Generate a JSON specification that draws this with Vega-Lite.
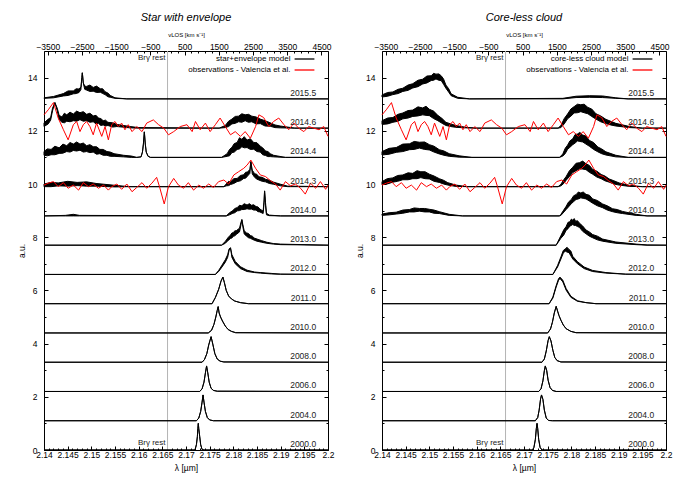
{
"$schema": "https://vega.github.io/schema/vega-lite/v6.json",
"background": "white",
"padding": {"left": 17, "top": 11, "right": 20, "bottom": 5},
"spacing": 20,
"config": {
  "font": "Liberation Sans",
  "view": {"stroke": "black", "strokeWidth": 1},
  "title": {"font": "Liberation Sans", "fontSize": 11, "fontStyle": "italic", "fontWeight": "normal", "offset": 8, "color": "black"},
  "axis": {"labelFont": "Liberation Sans", "titleFont": "Liberation Sans", "labelFontSize": 8.5, "titleFontSize": 8.5, "titleFontWeight": "normal", "labelColor": "black", "titleColor": "black", "tickColor": "black", "labelPadding": 4, "grid": false, "domain": false, "labelFlush": false, "labelOverlap": false},
  "legend": {"padding": 0, "labelFontSize": 8, "labelFont": "Liberation Sans", "labelColor": "black", "symbolType": "M-1.8,0H1.8", "symbolStrokeWidth": 1.3, "symbolSize": 121, "rowPadding": -1, "labelAlign": "right", "labelOffset": -20.5}
},
"datasets": {
"labels": [
{"ep":"2000.0","base":0},{"ep":"2004.0","base":1.1},{"ep":"2006.0","base":2.2},{"ep":"2008.0","base":3.3},{"ep":"2010.0","base":4.4},{"ep":"2011.0","base":5.5},{"ep":"2012.0","base":6.6},{"ep":"2013.0","base":7.7},{"ep":"2014.0","base":8.8},{"ep":"2014.3","base":9.9},{"ep":"2014.4","base":11.0},{"ep":"2014.6","base":12.1},{"ep":"2015.5","base":13.2}
],
"obs": [
{"ep":"2014.6","lam":2.14,"flux":12.6},{"ep":"2014.6","lam":2.1409,"flux":12.79},{"ep":"2014.6","lam":2.142,"flux":13.06},{"ep":"2014.6","lam":2.143,"flux":12.48},{"ep":"2014.6","lam":2.1441,"flux":12.04},{"ep":"2014.6","lam":2.1451,"flux":11.66},{"ep":"2014.6","lam":2.1462,"flux":12.23},{"ep":"2014.6","lam":2.1469,"flux":12.35},{"ep":"2014.6","lam":2.1476,"flux":11.97},{"ep":"2014.6","lam":2.1483,"flux":12.23},{"ep":"2014.6","lam":2.149,"flux":12.35},{"ep":"2014.6","lam":2.1497,"flux":12.16},{"ep":"2014.6","lam":2.1504,"flux":11.85},{"ep":"2014.6","lam":2.1511,"flux":12.29},{"ep":"2014.6","lam":2.1522,"flux":11.79},{"ep":"2014.6","lam":2.1529,"flux":12.16},{"ep":"2014.6","lam":2.1536,"flux":11.66},{"ep":"2014.6","lam":2.1543,"flux":12.23},{"ep":"2014.6","lam":2.155,"flux":12.35},{"ep":"2014.6","lam":2.1557,"flux":12.16},{"ep":"2014.6","lam":2.1564,"flux":12.29},{"ep":"2014.6","lam":2.1571,"flux":12.04},{"ep":"2014.6","lam":2.1578,"flux":12.23},{"ep":"2014.6","lam":2.1586,"flux":11.97},{"ep":"2014.6","lam":2.1596,"flux":12.16},{"ep":"2014.6","lam":2.1607,"flux":11.97},{"ep":"2014.6","lam":2.1617,"flux":12.29},{"ep":"2014.6","lam":2.1631,"flux":12.41},{"ep":"2014.6","lam":2.1642,"flux":12.23},{"ep":"2014.6","lam":2.1653,"flux":12.1},{"ep":"2014.6","lam":2.1663,"flux":11.85},{"ep":"2014.6","lam":2.1674,"flux":11.97},{"ep":"2014.6","lam":2.1688,"flux":12.16},{"ep":"2014.6","lam":2.1702,"flux":12.23},{"ep":"2014.6","lam":2.1713,"flux":11.97},{"ep":"2014.6","lam":2.172,"flux":12.35},{"ep":"2014.6","lam":2.173,"flux":12.04},{"ep":"2014.6","lam":2.1741,"flux":12.29},{"ep":"2014.6","lam":2.1751,"flux":11.97},{"ep":"2014.6","lam":2.1762,"flux":12.23},{"ep":"2014.6","lam":2.1772,"flux":12.48},{"ep":"2014.6","lam":2.1783,"flux":12.16},{"ep":"2014.6","lam":2.1794,"flux":11.85},{"ep":"2014.6","lam":2.1804,"flux":11.97},{"ep":"2014.6","lam":2.1815,"flux":11.79},{"ep":"2014.6","lam":2.1825,"flux":11.97},{"ep":"2014.6","lam":2.1836,"flux":11.72},{"ep":"2014.6","lam":2.1847,"flux":12.16},{"ep":"2014.6","lam":2.1854,"flux":12.6},{"ep":"2014.6","lam":2.1864,"flux":12.5},{"ep":"2014.6","lam":2.1875,"flux":12.16},{"ep":"2014.6","lam":2.1885,"flux":12.35},{"ep":"2014.6","lam":2.1896,"flux":12.48},{"ep":"2014.6","lam":2.1907,"flux":12.23},{"ep":"2014.6","lam":2.1917,"flux":12.04},{"ep":"2014.6","lam":2.1928,"flux":12.29},{"ep":"2014.6","lam":2.1938,"flux":12.1},{"ep":"2014.6","lam":2.1949,"flux":11.97},{"ep":"2014.6","lam":2.1959,"flux":12.16},{"ep":"2014.6","lam":2.197,"flux":12.1},{"ep":"2014.6","lam":2.1981,"flux":12.04},{"ep":"2014.6","lam":2.1991,"flux":12.16},{"ep":"2014.6","lam":2.2,"flux":11.79},
{"ep":"2014.3","lam":2.14,"flux":9.96},{"ep":"2014.3","lam":2.1409,"flux":10.03},{"ep":"2014.3","lam":2.142,"flux":10.09},{"ep":"2014.3","lam":2.143,"flux":9.9},{"ep":"2014.3","lam":2.1441,"flux":10.05},{"ep":"2014.3","lam":2.1451,"flux":9.84},{"ep":"2014.3","lam":2.1462,"flux":9.96},{"ep":"2014.3","lam":2.1473,"flux":9.77},{"ep":"2014.3","lam":2.1483,"flux":10.05},{"ep":"2014.3","lam":2.1494,"flux":9.9},{"ep":"2014.3","lam":2.1504,"flux":10.0},{"ep":"2014.3","lam":2.1515,"flux":9.84},{"ep":"2014.3","lam":2.1526,"flux":9.96},{"ep":"2014.3","lam":2.1536,"flux":9.77},{"ep":"2014.3","lam":2.1543,"flux":9.9},{"ep":"2014.3","lam":2.1554,"flux":10.0},{"ep":"2014.3","lam":2.1564,"flux":9.8},{"ep":"2014.3","lam":2.1575,"flux":10.0},{"ep":"2014.3","lam":2.1586,"flux":9.71},{"ep":"2014.3","lam":2.1596,"flux":9.87},{"ep":"2014.3","lam":2.1607,"flux":10.05},{"ep":"2014.3","lam":2.1617,"flux":9.84},{"ep":"2014.3","lam":2.1628,"flux":10.03},{"ep":"2014.3","lam":2.1638,"flux":10.25},{"ep":"2014.3","lam":2.1644,"flux":9.9},{"ep":"2014.3","lam":2.1654,"flux":9.25},{"ep":"2014.3","lam":2.1663,"flux":9.9},{"ep":"2014.3","lam":2.1674,"flux":10.21},{"ep":"2014.3","lam":2.1684,"flux":9.96},{"ep":"2014.3","lam":2.1695,"flux":9.84},{"ep":"2014.3","lam":2.1705,"flux":10.05},{"ep":"2014.3","lam":2.1716,"flux":9.77},{"ep":"2014.3","lam":2.1727,"flux":9.96},{"ep":"2014.3","lam":2.1737,"flux":9.84},{"ep":"2014.3","lam":2.1748,"flux":10.0},{"ep":"2014.3","lam":2.1758,"flux":9.87},{"ep":"2014.3","lam":2.1769,"flux":10.09},{"ep":"2014.3","lam":2.178,"flux":10.15},{"ep":"2014.3","lam":2.179,"flux":10.0},{"ep":"2014.3","lam":2.1801,"flux":10.34},{"ep":"2014.3","lam":2.1811,"flux":10.46},{"ep":"2014.3","lam":2.1822,"flux":10.59},{"ep":"2014.3","lam":2.1829,"flux":10.71},{"ep":"2014.3","lam":2.1837,"flux":10.9},{"ep":"2014.3","lam":2.1847,"flux":10.59},{"ep":"2014.3","lam":2.1857,"flux":10.34},{"ep":"2014.3","lam":2.1868,"flux":10.28},{"ep":"2014.3","lam":2.1878,"flux":10.13},{"ep":"2014.3","lam":2.1889,"flux":10.0},{"ep":"2014.3","lam":2.1899,"flux":9.77},{"ep":"2014.3","lam":2.191,"flux":10.09},{"ep":"2014.3","lam":2.1921,"flux":9.93},{"ep":"2014.3","lam":2.1931,"flux":10.0},{"ep":"2014.3","lam":2.1942,"flux":9.84},{"ep":"2014.3","lam":2.1952,"flux":9.62},{"ep":"2014.3","lam":2.1963,"flux":10.03},{"ep":"2014.3","lam":2.1974,"flux":9.84},{"ep":"2014.3","lam":2.1984,"flux":10.09},{"ep":"2014.3","lam":2.1995,"flux":9.8},{"ep":"2014.3","lam":2.2,"flux":9.96}
],
"left": [
{"ep":"2000.0","lam":2.14,"lo":0,"hi":0},{"ep":"2000.0","lam":2.1719,"lo":0,"hi":0},{"ep":"2000.0","lam":2.1722,"lo":0.2,"hi":0.2},{"ep":"2000.0","lam":2.1724,"lo":0.5,"hi":0.5},{"ep":"2000.0","lam":2.1725,"lo":0.8,"hi":0.8},{"ep":"2000.0","lam":2.1726,"lo":1.0,"hi":1.0},{"ep":"2000.0","lam":2.1727,"lo":0.8,"hi":0.8},{"ep":"2000.0","lam":2.1729,"lo":0.5,"hi":0.5},{"ep":"2000.0","lam":2.1731,"lo":0.2,"hi":0.2},{"ep":"2000.0","lam":2.1734,"lo":0.02,"hi":0.02},{"ep":"2000.0","lam":2.1738,"lo":0,"hi":0},{"ep":"2000.0","lam":2.2,"lo":0,"hi":0},
{"ep":"2004.0","lam":2.14,"lo":1.1,"hi":1.1},{"ep":"2004.0","lam":2.1722,"lo":1.1,"hi":1.1},{"ep":"2004.0","lam":2.1727,"lo":1.2,"hi":1.2},{"ep":"2004.0","lam":2.1731,"lo":1.45,"hi":1.45},{"ep":"2004.0","lam":2.1734,"lo":1.8,"hi":1.8},{"ep":"2004.0","lam":2.1736,"lo":2.07,"hi":2.07},{"ep":"2004.0","lam":2.1738,"lo":1.8,"hi":1.8},{"ep":"2004.0","lam":2.1741,"lo":1.45,"hi":1.45},{"ep":"2004.0","lam":2.1745,"lo":1.22,"hi":1.22},{"ep":"2004.0","lam":2.175,"lo":1.13,"hi":1.13},{"ep":"2004.0","lam":2.1758,"lo":1.1,"hi":1.1},{"ep":"2004.0","lam":2.2,"lo":1.1,"hi":1.1},
{"ep":"2006.0","lam":2.14,"lo":2.2,"hi":2.2},{"ep":"2006.0","lam":2.1729,"lo":2.2,"hi":2.2},{"ep":"2006.0","lam":2.1734,"lo":2.3,"hi":2.3},{"ep":"2006.0","lam":2.1738,"lo":2.55,"hi":2.55},{"ep":"2006.0","lam":2.1741,"lo":2.9,"hi":2.9},{"ep":"2006.0","lam":2.17435,"lo":3.16,"hi":3.16},{"ep":"2006.0","lam":2.1746,"lo":2.9,"hi":2.9},{"ep":"2006.0","lam":2.1749,"lo":2.55,"hi":2.55},{"ep":"2006.0","lam":2.1753,"lo":2.32,"hi":2.32},{"ep":"2006.0","lam":2.1758,"lo":2.24,"hi":2.24},{"ep":"2006.0","lam":2.1766,"lo":2.21,"hi":2.21},{"ep":"2006.0","lam":2.2,"lo":2.2,"hi":2.2},
{"ep":"2008.0","lam":2.14,"lo":3.3,"hi":3.3},{"ep":"2008.0","lam":2.1734,"lo":3.3,"hi":3.3},{"ep":"2008.0","lam":2.1739,"lo":3.4,"hi":3.4},{"ep":"2008.0","lam":2.1744,"lo":3.62,"hi":3.62},{"ep":"2008.0","lam":2.1748,"lo":3.95,"hi":3.95},{"ep":"2008.0","lam":2.1753,"lo":4.26,"hi":4.26},{"ep":"2008.0","lam":2.1757,"lo":3.95,"hi":3.95},{"ep":"2008.0","lam":2.1761,"lo":3.62,"hi":3.62},{"ep":"2008.0","lam":2.1766,"lo":3.42,"hi":3.42},{"ep":"2008.0","lam":2.1772,"lo":3.34,"hi":3.34},{"ep":"2008.0","lam":2.178,"lo":3.31,"hi":3.31},{"ep":"2008.0","lam":2.2,"lo":3.3,"hi":3.3},
{"ep":"2010.0","lam":2.14,"lo":4.4,"hi":4.4},{"ep":"2010.0","lam":2.1747,"lo":4.4,"hi":4.4},{"ep":"2010.0","lam":2.1754,"lo":4.5,"hi":4.5},{"ep":"2010.0","lam":2.1759,"lo":4.72,"hi":4.72},{"ep":"2010.0","lam":2.1763,"lo":5.0,"hi":5.0},{"ep":"2010.0","lam":2.1766,"lo":5.25,"hi":5.25},{"ep":"2010.0","lam":2.1768,"lo":5.39,"hi":5.39},{"ep":"2010.0","lam":2.177,"lo":5.15,"hi":5.15},{"ep":"2010.0","lam":2.1773,"lo":5.0,"hi":5.0},{"ep":"2010.0","lam":2.1777,"lo":4.85,"hi":4.85},{"ep":"2010.0","lam":2.1783,"lo":4.66,"hi":4.66},{"ep":"2010.0","lam":2.1789,"lo":4.53,"hi":4.53},{"ep":"2010.0","lam":2.1796,"lo":4.46,"hi":4.46},{"ep":"2010.0","lam":2.1805,"lo":4.41,"hi":4.41},{"ep":"2010.0","lam":2.2,"lo":4.4,"hi":4.4},
{"ep":"2011.0","lam":2.14,"lo":5.5,"hi":5.5},{"ep":"2011.0","lam":2.1755,"lo":5.5,"hi":5.5},{"ep":"2011.0","lam":2.1762,"lo":5.73,"hi":5.73},{"ep":"2011.0","lam":2.1769,"lo":6.04,"hi":6.04},{"ep":"2011.0","lam":2.1774,"lo":6.35,"hi":6.35},{"ep":"2011.0","lam":2.1778,"lo":6.5,"hi":6.5},{"ep":"2011.0","lam":2.1781,"lo":6.3,"hi":6.3},{"ep":"2011.0","lam":2.1785,"lo":6.0,"hi":6.0},{"ep":"2011.0","lam":2.179,"lo":5.79,"hi":5.79},{"ep":"2011.0","lam":2.1796,"lo":5.68,"hi":5.68},{"ep":"2011.0","lam":2.1803,"lo":5.6,"hi":5.6},{"ep":"2011.0","lam":2.1815,"lo":5.54,"hi":5.54},{"ep":"2011.0","lam":2.1832,"lo":5.5,"hi":5.5},{"ep":"2011.0","lam":2.2,"lo":5.5,"hi":5.5},
{"ep":"2012.0","lam":2.14,"lo":6.6,"hi":6.6},{"ep":"2012.0","lam":2.1762,"lo":6.6,"hi":6.6},{"ep":"2012.0","lam":2.1769,"lo":6.71,"hi":6.75},{"ep":"2012.0","lam":2.1776,"lo":6.88,"hi":6.95},{"ep":"2012.0","lam":2.1783,"lo":7.06,"hi":7.15},{"ep":"2012.0","lam":2.1788,"lo":7.24,"hi":7.34},{"ep":"2012.0","lam":2.1791,"lo":7.5,"hi":7.56},{"ep":"2012.0","lam":2.1794,"lo":7.6,"hi":7.6},{"ep":"2012.0","lam":2.1797,"lo":7.24,"hi":7.34},{"ep":"2012.0","lam":2.1804,"lo":7.0,"hi":7.09},{"ep":"2012.0","lam":2.1815,"lo":6.82,"hi":6.89},{"ep":"2012.0","lam":2.1829,"lo":6.71,"hi":6.76},{"ep":"2012.0","lam":2.1845,"lo":6.67,"hi":6.69},{"ep":"2012.0","lam":2.1857,"lo":6.65,"hi":6.67},{"ep":"2012.0","lam":2.188,"lo":6.62,"hi":6.64},{"ep":"2012.0","lam":2.19,"lo":6.61,"hi":6.61},{"ep":"2012.0","lam":2.2,"lo":6.6,"hi":6.6},
{"ep":"2013.0","lam":2.14,"lo":7.7,"hi":7.7},{"ep":"2013.0","lam":2.1775,"lo":7.7,"hi":7.7},{"ep":"2013.0","lam":2.1783,"lo":7.77,"hi":7.84},{"ep":"2013.0","lam":2.1789,"lo":7.88,"hi":7.99},{"ep":"2013.0","lam":2.1794,"lo":7.95,"hi":8.08},{"ep":"2013.0","lam":2.18,"lo":8.04,"hi":8.17},{"ep":"2013.0","lam":2.1806,"lo":8.1,"hi":8.24},{"ep":"2013.0","lam":2.1813,"lo":8.2,"hi":8.34},{"ep":"2013.0","lam":2.1816,"lo":8.45,"hi":8.55},{"ep":"2013.0","lam":2.1818,"lo":8.66,"hi":8.66},{"ep":"2013.0","lam":2.182,"lo":8.4,"hi":8.48},{"ep":"2013.0","lam":2.1823,"lo":8.12,"hi":8.24},{"ep":"2013.0","lam":2.1828,"lo":8.04,"hi":8.16},{"ep":"2013.0","lam":2.1836,"lo":7.96,"hi":8.06},{"ep":"2013.0","lam":2.1844,"lo":7.89,"hi":7.97},{"ep":"2013.0","lam":2.185,"lo":7.85,"hi":7.93},{"ep":"2013.0","lam":2.186,"lo":7.81,"hi":7.87},{"ep":"2013.0","lam":2.1871,"lo":7.77,"hi":7.81},{"ep":"2013.0","lam":2.1885,"lo":7.74,"hi":7.76},{"ep":"2013.0","lam":2.19,"lo":7.72,"hi":7.74},{"ep":"2013.0","lam":2.2,"lo":7.7,"hi":7.7},
{"ep":"2013.0","lam":2.1797,"lo":7.97,"hi":8.16},{"ep":"2013.0","lam":2.1803,"lo":8.05,"hi":8.24},{"ep":"2013.0","lam":2.1832,"lo":7.98,"hi":8.14},{"ep":"2013.0","lam":2.184,"lo":7.92,"hi":8.04},
{"ep":"2014.0","lam":2.14,"lo":8.8,"hi":8.8},{"ep":"2014.0","lam":2.1445,"lo":8.8,"hi":8.82},{"ep":"2014.0","lam":2.1462,"lo":8.8,"hi":8.86},{"ep":"2014.0","lam":2.1475,"lo":8.8,"hi":8.82},{"ep":"2014.0","lam":2.1785,"lo":8.8,"hi":8.8},{"ep":"2014.0","lam":2.1792,"lo":8.84,"hi":8.92},{"ep":"2014.0","lam":2.1799,"lo":8.9,"hi":9.0},{"ep":"2014.0","lam":2.1808,"lo":8.99,"hi":9.11},{"ep":"2014.0","lam":2.1818,"lo":9.04,"hi":9.18},{"ep":"2014.0","lam":2.1829,"lo":9.07,"hi":9.21},{"ep":"2014.0","lam":2.1838,"lo":9.06,"hi":9.2},{"ep":"2014.0","lam":2.1848,"lo":9.02,"hi":9.15},{"ep":"2014.0","lam":2.1856,"lo":8.95,"hi":9.06},{"ep":"2014.0","lam":2.1863,"lo":8.89,"hi":8.98},{"ep":"2014.0","lam":2.1865,"lo":9.3,"hi":9.4},{"ep":"2014.0","lam":2.1866,"lo":9.74,"hi":9.74},{"ep":"2014.0","lam":2.1868,"lo":9.2,"hi":9.3},{"ep":"2014.0","lam":2.187,"lo":8.84,"hi":8.9},{"ep":"2014.0","lam":2.1876,"lo":8.81,"hi":8.83},{"ep":"2014.0","lam":2.19,"lo":8.8,"hi":8.8},{"ep":"2014.0","lam":2.2,"lo":8.8,"hi":8.8},
{"ep":"2014.0","lam":2.1803,"lo":8.92,"hi":9.08},{"ep":"2014.0","lam":2.1813,"lo":9.0,"hi":9.2},{"ep":"2014.0","lam":2.1823,"lo":9.04,"hi":9.26},{"ep":"2014.0","lam":2.1834,"lo":9.05,"hi":9.26},{"ep":"2014.0","lam":2.1843,"lo":9.02,"hi":9.22},{"ep":"2014.0","lam":2.1852,"lo":8.96,"hi":9.14},
{"ep":"2014.3","lam":2.14,"lo":9.9,"hi":10.0},{"ep":"2014.3","lam":2.143,"lo":9.93,"hi":10.04},{"ep":"2014.3","lam":2.147,"lo":9.94,"hi":10.06},{"ep":"2014.3","lam":2.151,"lo":9.92,"hi":10.02},{"ep":"2014.3","lam":2.155,"lo":9.89,"hi":9.95},{"ep":"2014.3","lam":2.158,"lo":9.9,"hi":9.9},{"ep":"2014.3","lam":2.178,"lo":9.9,"hi":9.9},{"ep":"2014.3","lam":2.1785,"lo":9.93,"hi":10.0},{"ep":"2014.3","lam":2.1794,"lo":9.98,"hi":10.08},{"ep":"2014.3","lam":2.1808,"lo":10.09,"hi":10.21},{"ep":"2014.3","lam":2.1822,"lo":10.21,"hi":10.35},{"ep":"2014.3","lam":2.183,"lo":10.3,"hi":10.45},{"ep":"2014.3","lam":2.1835,"lo":10.4,"hi":10.55},{"ep":"2014.3","lam":2.1837,"lo":10.84,"hi":10.84},{"ep":"2014.3","lam":2.184,"lo":10.38,"hi":10.52},{"ep":"2014.3","lam":2.1845,"lo":10.25,"hi":10.39},{"ep":"2014.3","lam":2.1854,"lo":10.15,"hi":10.27},{"ep":"2014.3","lam":2.1868,"lo":10.08,"hi":10.18},{"ep":"2014.3","lam":2.1885,"lo":9.99,"hi":10.07},{"ep":"2014.3","lam":2.19,"lo":9.93,"hi":9.99},{"ep":"2014.3","lam":2.1915,"lo":9.9,"hi":9.92},{"ep":"2014.3","lam":2.2,"lo":9.9,"hi":9.9},
{"ep":"2014.3","lam":2.1415,"lo":9.9,"hi":10.06},{"ep":"2014.3","lam":2.145,"lo":9.92,"hi":10.1},{"ep":"2014.3","lam":2.149,"lo":9.92,"hi":10.08},{"ep":"2014.3","lam":2.179,"lo":9.94,"hi":10.1},{"ep":"2014.3","lam":2.1801,"lo":10.02,"hi":10.2},{"ep":"2014.3","lam":2.1815,"lo":10.12,"hi":10.32},{"ep":"2014.3","lam":2.1826,"lo":10.22,"hi":10.44},{"ep":"2014.3","lam":2.185,"lo":10.18,"hi":10.36},{"ep":"2014.3","lam":2.1861,"lo":10.1,"hi":10.25},{"ep":"2014.3","lam":2.1876,"lo":10.02,"hi":10.14},
{"ep":"2014.4","lam":2.14,"lo":11.08,"hi":11.22},{"ep":"2014.4","lam":2.1415,"lo":11.1,"hi":11.3},{"ep":"2014.4","lam":2.1432,"lo":11.15,"hi":11.36},{"ep":"2014.4","lam":2.1448,"lo":11.22,"hi":11.44},{"ep":"2014.4","lam":2.1462,"lo":11.26,"hi":11.5},{"ep":"2014.4","lam":2.1476,"lo":11.27,"hi":11.5},{"ep":"2014.4","lam":2.149,"lo":11.22,"hi":11.44},{"ep":"2014.4","lam":2.1504,"lo":11.2,"hi":11.4},{"ep":"2014.4","lam":2.1518,"lo":11.14,"hi":11.3},{"ep":"2014.4","lam":2.1533,"lo":11.08,"hi":11.22},{"ep":"2014.4","lam":2.1548,"lo":11.04,"hi":11.14},{"ep":"2014.4","lam":2.1568,"lo":11.02,"hi":11.08},{"ep":"2014.4","lam":2.1585,"lo":11.0,"hi":11.05},{"ep":"2014.4","lam":2.1596,"lo":11.0,"hi":11.0},{"ep":"2014.4","lam":2.1605,"lo":11.02,"hi":11.02},{"ep":"2014.4","lam":2.1608,"lo":11.2,"hi":11.2},{"ep":"2014.4","lam":2.161,"lo":11.5,"hi":11.5},{"ep":"2014.4","lam":2.1612,"lo":11.96,"hi":11.96},{"ep":"2014.4","lam":2.1614,"lo":11.5,"hi":11.5},{"ep":"2014.4","lam":2.1616,"lo":11.2,"hi":11.2},{"ep":"2014.4","lam":2.162,"lo":11.04,"hi":11.04},{"ep":"2014.4","lam":2.1625,"lo":11.0,"hi":11.0},{"ep":"2014.4","lam":2.1775,"lo":11.0,"hi":11.0},{"ep":"2014.4","lam":2.1787,"lo":11.04,"hi":11.14},{"ep":"2014.4","lam":2.1797,"lo":11.18,"hi":11.38},{"ep":"2014.4","lam":2.1808,"lo":11.3,"hi":11.56},{"ep":"2014.4","lam":2.1818,"lo":11.4,"hi":11.68},{"ep":"2014.4","lam":2.1829,"lo":11.37,"hi":11.65},{"ep":"2014.4","lam":2.1843,"lo":11.31,"hi":11.56},{"ep":"2014.4","lam":2.1857,"lo":11.2,"hi":11.42},{"ep":"2014.4","lam":2.1868,"lo":11.07,"hi":11.24},{"ep":"2014.4","lam":2.1878,"lo":11.03,"hi":11.14},{"ep":"2014.4","lam":2.1885,"lo":11.02,"hi":11.08},{"ep":"2014.4","lam":2.191,"lo":11.0,"hi":11.0},{"ep":"2014.4","lam":2.2,"lo":11.0,"hi":11.0},
{"ep":"2014.4","lam":2.1407,"lo":11.06,"hi":11.32},{"ep":"2014.4","lam":2.1423,"lo":11.1,"hi":11.42},{"ep":"2014.4","lam":2.144,"lo":11.16,"hi":11.5},{"ep":"2014.4","lam":2.1455,"lo":11.2,"hi":11.56},{"ep":"2014.4","lam":2.1469,"lo":11.24,"hi":11.58},{"ep":"2014.4","lam":2.1483,"lo":11.2,"hi":11.54},{"ep":"2014.4","lam":2.1497,"lo":11.18,"hi":11.48},{"ep":"2014.4","lam":2.1511,"lo":11.12,"hi":11.4},{"ep":"2014.4","lam":2.1525,"lo":11.08,"hi":11.3},{"ep":"2014.4","lam":2.154,"lo":11.04,"hi":11.2},{"ep":"2014.4","lam":2.1792,"lo":11.06,"hi":11.3},{"ep":"2014.4","lam":2.1802,"lo":11.2,"hi":11.52},{"ep":"2014.4","lam":2.1813,"lo":11.32,"hi":11.74},{"ep":"2014.4","lam":2.1823,"lo":11.36,"hi":11.78},{"ep":"2014.4","lam":2.1836,"lo":11.3,"hi":11.7},{"ep":"2014.4","lam":2.185,"lo":11.22,"hi":11.55},{"ep":"2014.4","lam":2.1862,"lo":11.1,"hi":11.36},{"ep":"2014.4","lam":2.1873,"lo":11.03,"hi":11.22},
{"ep":"2014.6","lam":2.14,"lo":12.16,"hi":12.3},{"ep":"2014.6","lam":2.1409,"lo":12.26,"hi":12.44},{"ep":"2014.6","lam":2.1414,"lo":12.4,"hi":12.5},{"ep":"2014.6","lam":2.1418,"lo":12.75,"hi":12.85},{"ep":"2014.6","lam":2.1423,"lo":13.06,"hi":13.06},{"ep":"2014.6","lam":2.1428,"lo":12.75,"hi":12.85},{"ep":"2014.6","lam":2.1432,"lo":12.42,"hi":12.58},{"ep":"2014.6","lam":2.1438,"lo":12.32,"hi":12.52},{"ep":"2014.6","lam":2.1448,"lo":12.36,"hi":12.6},{"ep":"2014.6","lam":2.1462,"lo":12.38,"hi":12.63},{"ep":"2014.6","lam":2.1476,"lo":12.42,"hi":12.68},{"ep":"2014.6","lam":2.149,"lo":12.38,"hi":12.62},{"ep":"2014.6","lam":2.1504,"lo":12.34,"hi":12.56},{"ep":"2014.6","lam":2.1515,"lo":12.28,"hi":12.48},{"ep":"2014.6","lam":2.1525,"lo":12.22,"hi":12.38},{"ep":"2014.6","lam":2.1535,"lo":12.2,"hi":12.32},{"ep":"2014.6","lam":2.1554,"lo":12.16,"hi":12.24},{"ep":"2014.6","lam":2.1582,"lo":12.11,"hi":12.16},{"ep":"2014.6","lam":2.16,"lo":12.1,"hi":12.12},{"ep":"2014.6","lam":2.177,"lo":12.1,"hi":12.1},{"ep":"2014.6","lam":2.1783,"lo":12.12,"hi":12.2},{"ep":"2014.6","lam":2.1797,"lo":12.26,"hi":12.44},{"ep":"2014.6","lam":2.1811,"lo":12.34,"hi":12.55},{"ep":"2014.6","lam":2.1825,"lo":12.38,"hi":12.6},{"ep":"2014.6","lam":2.1839,"lo":12.34,"hi":12.55},{"ep":"2014.6","lam":2.1857,"lo":12.27,"hi":12.44},{"ep":"2014.6","lam":2.1878,"lo":12.17,"hi":12.3},{"ep":"2014.6","lam":2.1899,"lo":12.11,"hi":12.18},{"ep":"2014.6","lam":2.193,"lo":12.1,"hi":12.1},{"ep":"2014.6","lam":2.2,"lo":12.1,"hi":12.1},
{"ep":"2014.6","lam":2.1443,"lo":12.3,"hi":12.66},{"ep":"2014.6","lam":2.1455,"lo":12.34,"hi":12.7},{"ep":"2014.6","lam":2.1469,"lo":12.36,"hi":12.74},{"ep":"2014.6","lam":2.1483,"lo":12.36,"hi":12.72},{"ep":"2014.6","lam":2.1497,"lo":12.32,"hi":12.66},{"ep":"2014.6","lam":2.151,"lo":12.26,"hi":12.58},{"ep":"2014.6","lam":2.152,"lo":12.2,"hi":12.46},{"ep":"2014.6","lam":2.153,"lo":12.18,"hi":12.4},{"ep":"2014.6","lam":2.1545,"lo":12.14,"hi":12.3},{"ep":"2014.6","lam":2.179,"lo":12.16,"hi":12.36},{"ep":"2014.6","lam":2.1804,"lo":12.28,"hi":12.54},{"ep":"2014.6","lam":2.1818,"lo":12.32,"hi":12.64},{"ep":"2014.6","lam":2.1832,"lo":12.32,"hi":12.62},{"ep":"2014.6","lam":2.1848,"lo":12.26,"hi":12.52},{"ep":"2014.6","lam":2.1867,"lo":12.18,"hi":12.38},{"ep":"2014.6","lam":2.1888,"lo":12.12,"hi":12.22},
{"ep":"2015.5","lam":2.14,"lo":13.22,"hi":13.24},{"ep":"2015.5","lam":2.142,"lo":13.24,"hi":13.29},{"ep":"2015.5","lam":2.1441,"lo":13.31,"hi":13.4},{"ep":"2015.5","lam":2.1462,"lo":13.39,"hi":13.5},{"ep":"2015.5","lam":2.1474,"lo":13.44,"hi":13.57},{"ep":"2015.5","lam":2.1478,"lo":13.55,"hi":13.65},{"ep":"2015.5","lam":2.148,"lo":14.0,"hi":14.0},{"ep":"2015.5","lam":2.1481,"lo":14.18,"hi":14.18},{"ep":"2015.5","lam":2.1483,"lo":13.8,"hi":13.8},{"ep":"2015.5","lam":2.1486,"lo":13.56,"hi":13.68},{"ep":"2015.5","lam":2.149,"lo":13.53,"hi":13.67},{"ep":"2015.5","lam":2.1504,"lo":13.49,"hi":13.63},{"ep":"2015.5","lam":2.1519,"lo":13.45,"hi":13.58},{"ep":"2015.5","lam":2.1529,"lo":13.36,"hi":13.47},{"ep":"2015.5","lam":2.154,"lo":13.26,"hi":13.33},{"ep":"2015.5","lam":2.155,"lo":13.22,"hi":13.24},{"ep":"2015.5","lam":2.1575,"lo":13.2,"hi":13.2},{"ep":"2015.5","lam":2.2,"lo":13.2,"hi":13.2},
{"ep":"2015.5","lam":2.1451,"lo":13.33,"hi":13.5},{"ep":"2015.5","lam":2.1468,"lo":13.4,"hi":13.58},{"ep":"2015.5","lam":2.1497,"lo":13.48,"hi":13.72},{"ep":"2015.5","lam":2.1511,"lo":13.44,"hi":13.68},{"ep":"2015.5","lam":2.1524,"lo":13.4,"hi":13.58},{"ep":"2015.5","lam":2.1535,"lo":13.28,"hi":13.42}
],
"right": [
{"ep":"2000.0","lam":2.14,"lo":0,"hi":0},{"ep":"2000.0","lam":2.1718,"lo":0,"hi":0},{"ep":"2000.0","lam":2.1721,"lo":0.1,"hi":0.1},{"ep":"2000.0","lam":2.1724,"lo":0.4,"hi":0.4},{"ep":"2000.0","lam":2.1726,"lo":0.8,"hi":0.8},{"ep":"2000.0","lam":2.17275,"lo":1.0,"hi":1.0},{"ep":"2000.0","lam":2.1729,"lo":0.8,"hi":0.8},{"ep":"2000.0","lam":2.1731,"lo":0.4,"hi":0.4},{"ep":"2000.0","lam":2.1734,"lo":0.1,"hi":0.1},{"ep":"2000.0","lam":2.1738,"lo":0,"hi":0},{"ep":"2000.0","lam":2.2,"lo":0,"hi":0},
{"ep":"2004.0","lam":2.14,"lo":1.1,"hi":1.1},{"ep":"2004.0","lam":2.1724,"lo":1.1,"hi":1.1},{"ep":"2004.0","lam":2.1729,"lo":1.22,"hi":1.22},{"ep":"2004.0","lam":2.1732,"lo":1.5,"hi":1.5},{"ep":"2004.0","lam":2.1735,"lo":1.92,"hi":1.92},{"ep":"2004.0","lam":2.1737,"lo":2.07,"hi":2.07},{"ep":"2004.0","lam":2.174,"lo":1.9,"hi":1.9},{"ep":"2004.0","lam":2.1743,"lo":1.5,"hi":1.5},{"ep":"2004.0","lam":2.1747,"lo":1.2,"hi":1.2},{"ep":"2004.0","lam":2.1752,"lo":1.11,"hi":1.11},{"ep":"2004.0","lam":2.176,"lo":1.1,"hi":1.1},{"ep":"2004.0","lam":2.2,"lo":1.1,"hi":1.1},
{"ep":"2006.0","lam":2.14,"lo":2.2,"hi":2.2},{"ep":"2006.0","lam":2.1731,"lo":2.2,"hi":2.2},{"ep":"2006.0","lam":2.1736,"lo":2.3,"hi":2.3},{"ep":"2006.0","lam":2.174,"lo":2.6,"hi":2.6},{"ep":"2006.0","lam":2.1743,"lo":2.98,"hi":2.98},{"ep":"2006.0","lam":2.1745,"lo":3.16,"hi":3.16},{"ep":"2006.0","lam":2.1748,"lo":2.98,"hi":2.98},{"ep":"2006.0","lam":2.1751,"lo":2.62,"hi":2.62},{"ep":"2006.0","lam":2.1755,"lo":2.35,"hi":2.35},{"ep":"2006.0","lam":2.176,"lo":2.24,"hi":2.24},{"ep":"2006.0","lam":2.1768,"lo":2.2,"hi":2.2},{"ep":"2006.0","lam":2.2,"lo":2.2,"hi":2.2},
{"ep":"2008.0","lam":2.14,"lo":3.3,"hi":3.3},{"ep":"2008.0","lam":2.1738,"lo":3.3,"hi":3.3},{"ep":"2008.0","lam":2.1743,"lo":3.42,"hi":3.42},{"ep":"2008.0","lam":2.1747,"lo":3.72,"hi":3.72},{"ep":"2008.0","lam":2.1751,"lo":4.12,"hi":4.12},{"ep":"2008.0","lam":2.17535,"lo":4.26,"hi":4.26},{"ep":"2008.0","lam":2.1757,"lo":4.1,"hi":4.1},{"ep":"2008.0","lam":2.1761,"lo":3.75,"hi":3.75},{"ep":"2008.0","lam":2.1765,"lo":3.48,"hi":3.48},{"ep":"2008.0","lam":2.177,"lo":3.36,"hi":3.36},{"ep":"2008.0","lam":2.1778,"lo":3.31,"hi":3.31},{"ep":"2008.0","lam":2.2,"lo":3.3,"hi":3.3},
{"ep":"2010.0","lam":2.14,"lo":4.4,"hi":4.4},{"ep":"2010.0","lam":2.175,"lo":4.4,"hi":4.4},{"ep":"2010.0","lam":2.1756,"lo":4.55,"hi":4.55},{"ep":"2010.0","lam":2.176,"lo":4.8,"hi":4.8},{"ep":"2010.0","lam":2.1764,"lo":5.15,"hi":5.15},{"ep":"2010.0","lam":2.1768,"lo":5.4,"hi":5.4},{"ep":"2010.0","lam":2.1771,"lo":5.22,"hi":5.22},{"ep":"2010.0","lam":2.1774,"lo":5.05,"hi":5.05},{"ep":"2010.0","lam":2.1778,"lo":4.88,"hi":4.88},{"ep":"2010.0","lam":2.1783,"lo":4.7,"hi":4.7},{"ep":"2010.0","lam":2.1789,"lo":4.56,"hi":4.56},{"ep":"2010.0","lam":2.1799,"lo":4.46,"hi":4.46},{"ep":"2010.0","lam":2.181,"lo":4.41,"hi":4.41},{"ep":"2010.0","lam":2.2,"lo":4.4,"hi":4.4},
{"ep":"2011.0","lam":2.14,"lo":5.5,"hi":5.5},{"ep":"2011.0","lam":2.1753,"lo":5.5,"hi":5.5},{"ep":"2011.0","lam":2.1761,"lo":5.71,"hi":5.75},{"ep":"2011.0","lam":2.1768,"lo":6.13,"hi":6.18},{"ep":"2011.0","lam":2.1773,"lo":6.38,"hi":6.44},{"ep":"2011.0","lam":2.1776,"lo":6.45,"hi":6.5},{"ep":"2011.0","lam":2.1782,"lo":6.32,"hi":6.38},{"ep":"2011.0","lam":2.1789,"lo":6.01,"hi":6.07},{"ep":"2011.0","lam":2.1799,"lo":5.74,"hi":5.78},{"ep":"2011.0","lam":2.1813,"lo":5.59,"hi":5.61},{"ep":"2011.0","lam":2.1831,"lo":5.54,"hi":5.54},{"ep":"2011.0","lam":2.1852,"lo":5.5,"hi":5.5},{"ep":"2011.0","lam":2.2,"lo":5.5,"hi":5.5},
{"ep":"2012.0","lam":2.14,"lo":6.6,"hi":6.6},{"ep":"2012.0","lam":2.1761,"lo":6.6,"hi":6.6},{"ep":"2012.0","lam":2.1771,"lo":6.88,"hi":6.94},{"ep":"2012.0","lam":2.1778,"lo":7.18,"hi":7.26},{"ep":"2012.0","lam":2.1783,"lo":7.4,"hi":7.5},{"ep":"2012.0","lam":2.1787,"lo":7.48,"hi":7.56},{"ep":"2012.0","lam":2.1795,"lo":7.42,"hi":7.54},{"ep":"2012.0","lam":2.1803,"lo":7.18,"hi":7.28},{"ep":"2012.0","lam":2.1813,"lo":7.0,"hi":7.08},{"ep":"2012.0","lam":2.1827,"lo":6.82,"hi":6.88},{"ep":"2012.0","lam":2.1845,"lo":6.71,"hi":6.75},{"ep":"2012.0","lam":2.1873,"lo":6.65,"hi":6.67},{"ep":"2012.0","lam":2.1915,"lo":6.61,"hi":6.61},{"ep":"2012.0","lam":2.2,"lo":6.6,"hi":6.6},
{"ep":"2012.0","lam":2.1791,"lo":7.44,"hi":7.62},{"ep":"2012.0","lam":2.1799,"lo":7.3,"hi":7.48},
{"ep":"2013.0","lam":2.14,"lo":7.7,"hi":7.7},{"ep":"2013.0","lam":2.1768,"lo":7.7,"hi":7.7},{"ep":"2013.0","lam":2.1778,"lo":7.96,"hi":8.06},{"ep":"2013.0","lam":2.1789,"lo":8.26,"hi":8.4},{"ep":"2013.0","lam":2.1797,"lo":8.42,"hi":8.58},{"ep":"2013.0","lam":2.1803,"lo":8.48,"hi":8.64},{"ep":"2013.0","lam":2.1809,"lo":8.44,"hi":8.6},{"ep":"2013.0","lam":2.1817,"lo":8.37,"hi":8.53},{"ep":"2013.0","lam":2.1831,"lo":8.13,"hi":8.27},{"ep":"2013.0","lam":2.1845,"lo":7.98,"hi":8.1},{"ep":"2013.0","lam":2.1866,"lo":7.85,"hi":7.93},{"ep":"2013.0","lam":2.1894,"lo":7.77,"hi":7.82},{"ep":"2013.0","lam":2.1937,"lo":7.72,"hi":7.74},{"ep":"2013.0","lam":2.196,"lo":7.7,"hi":7.71},{"ep":"2013.0","lam":2.2,"lo":7.7,"hi":7.7},
{"ep":"2013.0","lam":2.1784,"lo":8.08,"hi":8.28},{"ep":"2013.0","lam":2.1793,"lo":8.32,"hi":8.56},{"ep":"2013.0","lam":2.18,"lo":8.44,"hi":8.68},{"ep":"2013.0","lam":2.1806,"lo":8.44,"hi":8.7},{"ep":"2013.0","lam":2.1813,"lo":8.4,"hi":8.62},{"ep":"2013.0","lam":2.1824,"lo":8.22,"hi":8.42},{"ep":"2013.0","lam":2.1838,"lo":8.04,"hi":8.2},{"ep":"2013.0","lam":2.1855,"lo":7.9,"hi":8.04},
{"ep":"2014.0","lam":2.14,"lo":8.82,"hi":8.87},{"ep":"2014.0","lam":2.143,"lo":8.87,"hi":8.94},{"ep":"2014.0","lam":2.1458,"lo":8.95,"hi":9.04},{"ep":"2014.0","lam":2.1479,"lo":8.98,"hi":9.08},{"ep":"2014.0","lam":2.15,"lo":8.95,"hi":9.05},{"ep":"2014.0","lam":2.1521,"lo":8.89,"hi":8.96},{"ep":"2014.0","lam":2.1542,"lo":8.82,"hi":8.86},{"ep":"2014.0","lam":2.157,"lo":8.8,"hi":8.8},{"ep":"2014.0","lam":2.1775,"lo":8.8,"hi":8.8},{"ep":"2014.0","lam":2.1778,"lo":8.82,"hi":8.86},{"ep":"2014.0","lam":2.1789,"lo":9.04,"hi":9.16},{"ep":"2014.0","lam":2.18,"lo":9.26,"hi":9.42},{"ep":"2014.0","lam":2.181,"lo":9.42,"hi":9.6},{"ep":"2014.0","lam":2.182,"lo":9.48,"hi":9.66},{"ep":"2014.0","lam":2.1831,"lo":9.44,"hi":9.61},{"ep":"2014.0","lam":2.1845,"lo":9.28,"hi":9.44},{"ep":"2014.0","lam":2.1866,"lo":9.11,"hi":9.25},{"ep":"2014.0","lam":2.1887,"lo":8.96,"hi":9.07},{"ep":"2014.0","lam":2.1908,"lo":8.89,"hi":8.97},{"ep":"2014.0","lam":2.1937,"lo":8.82,"hi":8.86},{"ep":"2014.0","lam":2.196,"lo":8.8,"hi":8.8},{"ep":"2014.0","lam":2.2,"lo":8.8,"hi":8.8},
{"ep":"2014.0","lam":2.1415,"lo":8.84,"hi":8.92},{"ep":"2014.0","lam":2.1444,"lo":8.9,"hi":9.02},{"ep":"2014.0","lam":2.1468,"lo":8.95,"hi":9.1},{"ep":"2014.0","lam":2.149,"lo":8.95,"hi":9.08},{"ep":"2014.0","lam":2.151,"lo":8.9,"hi":9.02},{"ep":"2014.0","lam":2.1794,"lo":9.14,"hi":9.32},{"ep":"2014.0","lam":2.1805,"lo":9.34,"hi":9.56},{"ep":"2014.0","lam":2.1815,"lo":9.44,"hi":9.7},{"ep":"2014.0","lam":2.1825,"lo":9.46,"hi":9.7},{"ep":"2014.0","lam":2.1838,"lo":9.36,"hi":9.58},{"ep":"2014.0","lam":2.1855,"lo":9.18,"hi":9.38},{"ep":"2014.0","lam":2.1876,"lo":9.02,"hi":9.18},{"ep":"2014.0","lam":2.1897,"lo":8.92,"hi":9.04},
{"ep":"2014.3","lam":2.14,"lo":9.97,"hi":10.09},{"ep":"2014.3","lam":2.1423,"lo":10.07,"hi":10.23},{"ep":"2014.3","lam":2.1444,"lo":10.16,"hi":10.34},{"ep":"2014.3","lam":2.1465,"lo":10.2,"hi":10.4},{"ep":"2014.3","lam":2.1482,"lo":10.24,"hi":10.46},{"ep":"2014.3","lam":2.15,"lo":10.19,"hi":10.37},{"ep":"2014.3","lam":2.1521,"lo":10.06,"hi":10.2},{"ep":"2014.3","lam":2.1539,"lo":9.96,"hi":10.05},{"ep":"2014.3","lam":2.1556,"lo":9.91,"hi":9.96},{"ep":"2014.3","lam":2.158,"lo":9.9,"hi":9.9},{"ep":"2014.3","lam":2.1772,"lo":9.9,"hi":9.9},{"ep":"2014.3","lam":2.1778,"lo":9.93,"hi":9.99},{"ep":"2014.3","lam":2.1789,"lo":10.14,"hi":10.28},{"ep":"2014.3","lam":2.1803,"lo":10.43,"hi":10.63},{"ep":"2014.3","lam":2.1817,"lo":10.57,"hi":10.8},{"ep":"2014.3","lam":2.1831,"lo":10.54,"hi":10.76},{"ep":"2014.3","lam":2.1845,"lo":10.37,"hi":10.55},{"ep":"2014.3","lam":2.1863,"lo":10.2,"hi":10.36},{"ep":"2014.3","lam":2.188,"lo":10.07,"hi":10.19},{"ep":"2014.3","lam":2.1901,"lo":9.96,"hi":10.04},{"ep":"2014.3","lam":2.1923,"lo":9.91,"hi":9.95},{"ep":"2014.3","lam":2.195,"lo":9.9,"hi":9.9},{"ep":"2014.3","lam":2.2,"lo":9.9,"hi":9.9},
{"ep":"2014.3","lam":2.1411,"lo":10.0,"hi":10.2},{"ep":"2014.3","lam":2.1433,"lo":10.1,"hi":10.32},{"ep":"2014.3","lam":2.1455,"lo":10.16,"hi":10.42},{"ep":"2014.3","lam":2.1474,"lo":10.2,"hi":10.5},{"ep":"2014.3","lam":2.1491,"lo":10.2,"hi":10.46},{"ep":"2014.3","lam":2.151,"lo":10.1,"hi":10.3},{"ep":"2014.3","lam":2.153,"lo":10.0,"hi":10.14},{"ep":"2014.3","lam":2.1784,"lo":10.02,"hi":10.16},{"ep":"2014.3","lam":2.1796,"lo":10.28,"hi":10.5},{"ep":"2014.3","lam":2.181,"lo":10.5,"hi":10.78},{"ep":"2014.3","lam":2.1824,"lo":10.56,"hi":10.86},{"ep":"2014.3","lam":2.1838,"lo":10.44,"hi":10.7},{"ep":"2014.3","lam":2.1854,"lo":10.26,"hi":10.48},{"ep":"2014.3","lam":2.1871,"lo":10.12,"hi":10.3},{"ep":"2014.3","lam":2.189,"lo":10.0,"hi":10.12},
{"ep":"2014.4","lam":2.14,"lo":11.09,"hi":11.22},{"ep":"2014.4","lam":2.143,"lo":11.19,"hi":11.37},{"ep":"2014.4","lam":2.1458,"lo":11.29,"hi":11.51},{"ep":"2014.4","lam":2.1479,"lo":11.35,"hi":11.57},{"ep":"2014.4","lam":2.15,"lo":11.28,"hi":11.48},{"ep":"2014.4","lam":2.1521,"lo":11.13,"hi":11.29},{"ep":"2014.4","lam":2.1542,"lo":11.04,"hi":11.14},{"ep":"2014.4","lam":2.1563,"lo":11.01,"hi":11.06},{"ep":"2014.4","lam":2.159,"lo":11.0,"hi":11.0},{"ep":"2014.4","lam":2.1775,"lo":11.0,"hi":11.0},{"ep":"2014.4","lam":2.1782,"lo":11.05,"hi":11.13},{"ep":"2014.4","lam":2.1792,"lo":11.3,"hi":11.46},{"ep":"2014.4","lam":2.1803,"lo":11.48,"hi":11.7},{"ep":"2014.4","lam":2.1813,"lo":11.62,"hi":11.88},{"ep":"2014.4","lam":2.1824,"lo":11.58,"hi":11.84},{"ep":"2014.4","lam":2.1838,"lo":11.42,"hi":11.64},{"ep":"2014.4","lam":2.1856,"lo":11.21,"hi":11.39},{"ep":"2014.4","lam":2.1873,"lo":11.09,"hi":11.21},{"ep":"2014.4","lam":2.1894,"lo":11.02,"hi":11.08},{"ep":"2014.4","lam":2.192,"lo":11.0,"hi":11.0},{"ep":"2014.4","lam":2.2,"lo":11.0,"hi":11.0},
{"ep":"2014.4","lam":2.1415,"lo":11.12,"hi":11.34},{"ep":"2014.4","lam":2.1444,"lo":11.22,"hi":11.5},{"ep":"2014.4","lam":2.1468,"lo":11.3,"hi":11.6},{"ep":"2014.4","lam":2.149,"lo":11.3,"hi":11.58},{"ep":"2014.4","lam":2.151,"lo":11.2,"hi":11.42},{"ep":"2014.4","lam":2.1531,"lo":11.08,"hi":11.24},{"ep":"2014.4","lam":2.1787,"lo":11.14,"hi":11.34},{"ep":"2014.4","lam":2.1797,"lo":11.38,"hi":11.62},{"ep":"2014.4","lam":2.1808,"lo":11.54,"hi":11.86},{"ep":"2014.4","lam":2.1818,"lo":11.6,"hi":11.94},{"ep":"2014.4","lam":2.1831,"lo":11.5,"hi":11.8},{"ep":"2014.4","lam":2.1847,"lo":11.3,"hi":11.56},{"ep":"2014.4","lam":2.1864,"lo":11.14,"hi":11.32},
{"ep":"2014.6","lam":2.14,"lo":12.24,"hi":12.38},{"ep":"2014.6","lam":2.1423,"lo":12.32,"hi":12.5},{"ep":"2014.6","lam":2.1444,"lo":12.45,"hi":12.67},{"ep":"2014.6","lam":2.1465,"lo":12.54,"hi":12.78},{"ep":"2014.6","lam":2.1486,"lo":12.6,"hi":12.86},{"ep":"2014.6","lam":2.15,"lo":12.57,"hi":12.81},{"ep":"2014.6","lam":2.1518,"lo":12.38,"hi":12.58},{"ep":"2014.6","lam":2.1535,"lo":12.2,"hi":12.32},{"ep":"2014.6","lam":2.1556,"lo":12.13,"hi":12.2},{"ep":"2014.6","lam":2.1577,"lo":12.11,"hi":12.13},{"ep":"2014.6","lam":2.16,"lo":12.1,"hi":12.1},{"ep":"2014.6","lam":2.1772,"lo":12.1,"hi":12.1},{"ep":"2014.6","lam":2.1778,"lo":12.12,"hi":12.2},{"ep":"2014.6","lam":2.1792,"lo":12.45,"hi":12.63},{"ep":"2014.6","lam":2.1806,"lo":12.67,"hi":12.91},{"ep":"2014.6","lam":2.182,"lo":12.72,"hi":12.98},{"ep":"2014.6","lam":2.1835,"lo":12.64,"hi":12.88},{"ep":"2014.6","lam":2.1852,"lo":12.44,"hi":12.64},{"ep":"2014.6","lam":2.1873,"lo":12.27,"hi":12.43},{"ep":"2014.6","lam":2.1894,"lo":12.18,"hi":12.28},{"ep":"2014.6","lam":2.1923,"lo":12.12,"hi":12.16},{"ep":"2014.6","lam":2.195,"lo":12.1,"hi":12.1},{"ep":"2014.6","lam":2.2,"lo":12.1,"hi":12.1},
{"ep":"2014.6","lam":2.1412,"lo":12.26,"hi":12.48},{"ep":"2014.6","lam":2.1434,"lo":12.36,"hi":12.62},{"ep":"2014.6","lam":2.1455,"lo":12.48,"hi":12.76},{"ep":"2014.6","lam":2.1476,"lo":12.56,"hi":12.9},{"ep":"2014.6","lam":2.1493,"lo":12.58,"hi":12.92},{"ep":"2014.6","lam":2.1509,"lo":12.46,"hi":12.74},{"ep":"2014.6","lam":2.1527,"lo":12.28,"hi":12.46},{"ep":"2014.6","lam":2.1545,"lo":12.16,"hi":12.26},{"ep":"2014.6","lam":2.1785,"lo":12.26,"hi":12.46},{"ep":"2014.6","lam":2.1799,"lo":12.55,"hi":12.82},{"ep":"2014.6","lam":2.1813,"lo":12.68,"hi":13.0},{"ep":"2014.6","lam":2.1827,"lo":12.68,"hi":13.0},{"ep":"2014.6","lam":2.1843,"lo":12.54,"hi":12.82},{"ep":"2014.6","lam":2.1862,"lo":12.34,"hi":12.56},{"ep":"2014.6","lam":2.1883,"lo":12.22,"hi":12.36},
{"ep":"2015.5","lam":2.14,"lo":13.27,"hi":13.35},{"ep":"2015.5","lam":2.1423,"lo":13.36,"hi":13.46},{"ep":"2015.5","lam":2.1444,"lo":13.48,"hi":13.6},{"ep":"2015.5","lam":2.1465,"lo":13.61,"hi":13.77},{"ep":"2015.5","lam":2.1486,"lo":13.76,"hi":13.94},{"ep":"2015.5","lam":2.1504,"lo":13.89,"hi":14.07},{"ep":"2015.5","lam":2.1514,"lo":13.95,"hi":14.13},{"ep":"2015.5","lam":2.1525,"lo":13.89,"hi":14.07},{"ep":"2015.5","lam":2.1535,"lo":13.6,"hi":13.72},{"ep":"2015.5","lam":2.1546,"lo":13.32,"hi":13.39},{"ep":"2015.5","lam":2.156,"lo":13.22,"hi":13.26},{"ep":"2015.5","lam":2.1585,"lo":13.2,"hi":13.2},{"ep":"2015.5","lam":2.1782,"lo":13.2,"hi":13.22},{"ep":"2015.5","lam":2.181,"lo":13.25,"hi":13.3},{"ep":"2015.5","lam":2.1838,"lo":13.26,"hi":13.32},{"ep":"2015.5","lam":2.1866,"lo":13.25,"hi":13.31},{"ep":"2015.5","lam":2.1894,"lo":13.22,"hi":13.24},{"ep":"2015.5","lam":2.192,"lo":13.2,"hi":13.2},{"ep":"2015.5","lam":2.2,"lo":13.2,"hi":13.2},
{"ep":"2015.5","lam":2.1412,"lo":13.3,"hi":13.44},{"ep":"2015.5","lam":2.1434,"lo":13.4,"hi":13.56},{"ep":"2015.5","lam":2.1455,"lo":13.52,"hi":13.72},{"ep":"2015.5","lam":2.1476,"lo":13.66,"hi":13.9},{"ep":"2015.5","lam":2.1495,"lo":13.8,"hi":14.06},{"ep":"2015.5","lam":2.1509,"lo":13.9,"hi":14.16},{"ep":"2015.5","lam":2.152,"lo":13.9,"hi":14.14},{"ep":"2015.5","lam":2.153,"lo":13.75,"hi":13.95},{"ep":"2015.5","lam":2.1541,"lo":13.45,"hi":13.58}
]
},
"hconcat": [
{
 "width": 284, "height": 399,
 "title": {"text": "Star with envelope"},
 "layer": [
  {"data": {"values": [{}]}, "mark": {"type": "rule", "color": "#b4b4b4", "strokeWidth": 1},
   "encoding": {"x": {"datum": 2.1661, "type": "quantitative", "scale": {"domain": [2.14, 2.2], "nice": false, "zero": false},
     "axis": {"orient": "top", "values": [2.14081127,2.14225634,2.14370141,2.14514648,2.14659155,2.14803662,2.14948169,2.15092676,2.15237183,2.1538169,2.15526197,2.15670704,2.15815211,2.15959718,2.16104225,2.16248732,2.16393239,2.16537746,2.16682254,2.16826761,2.16971268,2.17115775,2.17260282,2.17404789,2.17549296,2.17693803,2.1783831,2.17982817,2.18127324,2.18271831,2.18416338,2.18560845,2.18705352,2.18849859,2.18994366,2.19138873,2.1928338,2.19427887,2.19572394,2.19716901,2.19861408],
       "labelExpr": "(round((datum.value/2.1661-1)*2997.92458)*100 + 3500) % 1000 == 0 ? format(round((datum.value/2.1661-1)*2997.92458)*100, 'd') : ''",
       "tickSize": {"condition": {"test": "(round((datum.value/2.1661-1)*2997.92458)*100 + 3500) % 1000 == 0", "value": -4}, "value": -2},
       "title": "vLOS [km s⁻¹]", "titleFontSize": 6, "titlePadding": 3}}}},
  {"data": {"name": "left"}, "mark": {"type": "area", "color": "black", "stroke": "black", "strokeWidth": 1, "strokeJoin": "round"},
   "encoding": {
     "x": {"field": "lam", "type": "quantitative", "scale": {"domain": [2.14, 2.2], "nice": false, "zero": false},
       "axis": {"orient": "bottom", "values": [2.14,2.141,2.142,2.143,2.144,2.145,2.146,2.147,2.148,2.149,2.15,2.151,2.152,2.153,2.154,2.155,2.156,2.157,2.158,2.159,2.16,2.161,2.162,2.163,2.164,2.165,2.166,2.167,2.168,2.169,2.17,2.171,2.172,2.173,2.174,2.175,2.176,2.177,2.178,2.179,2.18,2.181,2.182,2.183,2.184,2.185,2.186,2.187,2.188,2.189,2.19,2.191,2.192,2.193,2.194,2.195,2.196,2.197,2.198,2.199,2.2],
         "labelExpr": "abs(datum.value*200 - round(datum.value*200)) < 0.01 ? format(datum.value, '.4~f') : ''",
         "tickSize": {"condition": {"test": "abs(datum.value*200 - round(datum.value*200)) < 0.01", "value": -4}, "value": -2},
         "title": "λ [µm]", "titlePadding": 3}},
     "y": {"field": "lo", "type": "quantitative", "scale": {"domain": [0, 15], "nice": false, "zero": false},
       "axis": {"orient": "left", "values": [0,1,2,3,4,5,6,7,8,9,10,11,12,13,14,15], "labelExpr": "datum.value % 2 == 0 ? datum.label : ''",
         "tickSize": {"condition": {"test": "datum.value % 2 == 0", "value": -4}, "value": -2}, "labelPadding": 11, "title": "a.u.", "titlePadding": 1}},
     "y2": {"field": "hi"},
     "detail": {"field": "ep"}}},
  {"data": {"name": "obs"}, "mark": {"type": "line", "strokeWidth": 1},
   "encoding": {
     "x": {"field": "lam", "type": "quantitative", "axis": null},
     "y": {"field": "flux", "type": "quantitative", "axis": null},
     "detail": {"field": "ep"},
     "color": {"datum": "observations - Valencia et al.", "scale": {"domain": ["star+envelope model", "observations - Valencia et al."], "range": ["black", "#ff0000"]},
       "legend": {"title": null, "orient": "none", "legendX": 254, "legendY": 1.5}}}},
  {"data": {"name": "labels"}, "mark": {"type": "text", "align": "right", "baseline": "alphabetic", "dy": -3, "fontSize": 8.5, "color": "#222222"},
   "encoding": {
     "x": {"datum": 2.1975, "type": "quantitative", "axis": null},
     "y": {"field": "base", "type": "quantitative", "axis": {"orient": "right", "values": [0,1,2,3,4,5,6,7,8,9,10,11,12,13,14,15], "labels": false, "title": null,
       "tickSize": {"condition": {"test": "datum.value % 2 == 0", "value": -4}, "value": -2}}},
     "text": {"field": "ep"}}},
  {"data": {"values": [{}]}, "mark": {"type": "text", "text": "Brγ rest", "align": "right", "baseline": "middle", "dx": -2, "fontSize": 8, "color": "#222222"},
   "encoding": {"x": {"datum": 2.1661, "type": "quantitative", "axis": null}, "y": {"datum": 14.75, "type": "quantitative", "axis": null}}},
  {"data": {"values": [{}]}, "mark": {"type": "text", "text": "Brγ rest", "align": "right", "baseline": "middle", "dx": -2, "fontSize": 8, "color": "#222222"},
   "encoding": {"x": {"datum": 2.1661, "type": "quantitative", "axis": null}, "y": {"datum": 0.28, "type": "quantitative", "axis": null}}}
 ],
 "resolve": {"axis": {"x": "independent", "y": "independent"}}
},
{
 "width": 284, "height": 399,
 "title": {"text": "Core-less cloud"},
 "layer": [
  {"data": {"values": [{}]}, "mark": {"type": "rule", "color": "#b4b4b4", "strokeWidth": 1},
   "encoding": {"x": {"datum": 2.1661, "type": "quantitative", "scale": {"domain": [2.14, 2.2], "nice": false, "zero": false},
     "axis": {"orient": "top", "values": [2.14081127,2.14225634,2.14370141,2.14514648,2.14659155,2.14803662,2.14948169,2.15092676,2.15237183,2.1538169,2.15526197,2.15670704,2.15815211,2.15959718,2.16104225,2.16248732,2.16393239,2.16537746,2.16682254,2.16826761,2.16971268,2.17115775,2.17260282,2.17404789,2.17549296,2.17693803,2.1783831,2.17982817,2.18127324,2.18271831,2.18416338,2.18560845,2.18705352,2.18849859,2.18994366,2.19138873,2.1928338,2.19427887,2.19572394,2.19716901,2.19861408],
       "labelExpr": "(round((datum.value/2.1661-1)*2997.92458)*100 + 3500) % 1000 == 0 ? format(round((datum.value/2.1661-1)*2997.92458)*100, 'd') : ''",
       "tickSize": {"condition": {"test": "(round((datum.value/2.1661-1)*2997.92458)*100 + 3500) % 1000 == 0", "value": -4}, "value": -2},
       "title": "vLOS [km s⁻¹]", "titleFontSize": 6, "titlePadding": 3}}}},
  {"data": {"name": "right"}, "mark": {"type": "area", "color": "black", "stroke": "black", "strokeWidth": 1, "strokeJoin": "round"},
   "encoding": {
     "x": {"field": "lam", "type": "quantitative", "scale": {"domain": [2.14, 2.2], "nice": false, "zero": false},
       "axis": {"orient": "bottom", "values": [2.14,2.141,2.142,2.143,2.144,2.145,2.146,2.147,2.148,2.149,2.15,2.151,2.152,2.153,2.154,2.155,2.156,2.157,2.158,2.159,2.16,2.161,2.162,2.163,2.164,2.165,2.166,2.167,2.168,2.169,2.17,2.171,2.172,2.173,2.174,2.175,2.176,2.177,2.178,2.179,2.18,2.181,2.182,2.183,2.184,2.185,2.186,2.187,2.188,2.189,2.19,2.191,2.192,2.193,2.194,2.195,2.196,2.197,2.198,2.199,2.2],
         "labelExpr": "abs(datum.value*200 - round(datum.value*200)) < 0.01 ? format(datum.value, '.4~f') : ''",
         "tickSize": {"condition": {"test": "abs(datum.value*200 - round(datum.value*200)) < 0.01", "value": -4}, "value": -2},
         "title": "λ [µm]", "titlePadding": 3}},
     "y": {"field": "lo", "type": "quantitative", "scale": {"domain": [0, 15], "nice": false, "zero": false},
       "axis": {"orient": "left", "values": [0,1,2,3,4,5,6,7,8,9,10,11,12,13,14,15], "labelExpr": "datum.value % 2 == 0 ? datum.label : ''",
         "tickSize": {"condition": {"test": "datum.value % 2 == 0", "value": -4}, "value": -2}, "labelPadding": 11, "title": "a.u.", "titlePadding": 1}},
     "y2": {"field": "hi"},
     "detail": {"field": "ep"}}},
  {"data": {"name": "obs"}, "mark": {"type": "line", "strokeWidth": 1},
   "encoding": {
     "x": {"field": "lam", "type": "quantitative", "axis": null},
     "y": {"field": "flux", "type": "quantitative", "axis": null},
     "detail": {"field": "ep"},
     "color": {"datum": "observations - Valencia et al.", "scale": {"domain": ["core-less cloud model", "observations - Valencia et al."], "range": ["black", "#ff0000"]},
       "legend": {"title": null, "orient": "none", "legendX": 254, "legendY": 1.5}}}},
  {"data": {"name": "labels"}, "mark": {"type": "text", "align": "right", "baseline": "alphabetic", "dy": -3, "fontSize": 8.5, "color": "#222222"},
   "encoding": {
     "x": {"datum": 2.1975, "type": "quantitative", "axis": null},
     "y": {"field": "base", "type": "quantitative", "axis": {"orient": "right", "values": [0,1,2,3,4,5,6,7,8,9,10,11,12,13,14,15], "labels": false, "title": null,
       "tickSize": {"condition": {"test": "datum.value % 2 == 0", "value": -4}, "value": -2}}},
     "text": {"field": "ep"}}},
  {"data": {"values": [{}]}, "mark": {"type": "text", "text": "Brγ rest", "align": "right", "baseline": "middle", "dx": -2, "fontSize": 8, "color": "#222222"},
   "encoding": {"x": {"datum": 2.1661, "type": "quantitative", "axis": null}, "y": {"datum": 14.75, "type": "quantitative", "axis": null}}},
  {"data": {"values": [{}]}, "mark": {"type": "text", "text": "Brγ rest", "align": "right", "baseline": "middle", "dx": -2, "fontSize": 8, "color": "#222222"},
   "encoding": {"x": {"datum": 2.1661, "type": "quantitative", "axis": null}, "y": {"datum": 0.28, "type": "quantitative", "axis": null}}}
 ],
 "resolve": {"axis": {"x": "independent", "y": "independent"}}
}
],
"resolve": {"scale": {"color": "independent"}, "legend": {"color": "independent"}}
}
